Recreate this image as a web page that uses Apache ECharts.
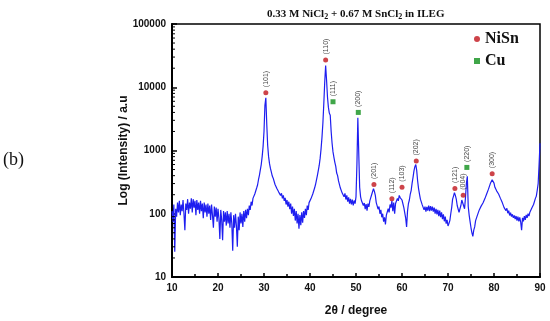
<!DOCTYPE html>
<html><head><meta charset="utf-8">
<script src="https://cdn.jsdelivr.net/npm/echarts@6/dist/echarts.min.js"></script>
<style>html,body{margin:0;padding:0;background:#fff}#c{width:550px;height:321px}</style>
</head><body><div id="c"></div>
<script>
// XRD scan, [2theta, intensity]
const scanA = [[10.0,110],[10.2,75],[10.4,140],[10.6,25],[10.8,120],[11.0,90],[11.2,150],[11.4,105],[11.6,160],[11.8,95],[12.0,140],[12.2,110],[12.4,165],[12.6,100],[12.8,55],[13.0,145],[13.2,115],[13.4,170],[13.6,100],[13.8,150],[14.0,120],[14.2,175],[14.4,105],[14.6,170],[14.8,125],[15.0,160],[15.2,95],[15.4,165],[15.6,115],[15.8,150],[16.0,100],[16.2,160],[16.4,110],[16.6,145],[16.8,85],[17.0,150],[17.2,105],[17.4,140],[17.6,90],[17.8,145],[18.0,100],[18.2,135],[18.4,80],[18.6,140],[18.8,95],[19.0,60],[19.2,130],[19.4,90],[19.6,125],[19.8,75],[20.0,120],[20.2,85],[20.4,40],[20.6,115],[20.8,80],[21.0,38],[21.2,110],[21.4,75],[21.6,105],[21.8,65],[22.0,110],[22.2,70],[22.4,100],[22.6,60],[22.8,105],[23.0,70],[23.2,26],[23.4,95],[23.6,60],[23.8,100],[24.0,65],[24.2,30],[24.4,90],[24.6,55],[24.8,105],[25.0,70],[25.2,100],[25.4,62],[25.6,110],[25.8,75],[26.0,115],[26.2,85],[26.4,120],[26.6,95],[26.8,135],[27.0,115]];
const scanB = [[27.2,155],[27.4,135],[27.6,175],[27.8,172],[28.0,205],[28.2,215],[28.4,255],[28.6,285],[28.8,345],[29.0,405],[29.2,495],[29.4,600],[29.6,800],[29.8,1150],[30.0,2000],[30.2,5200],[30.4,6800],[30.6,2600],[30.8,1200],[31.0,800],[31.2,620],[31.4,520],[31.6,455],[31.8,395],[32.0,365],[32.2,345],[32.4,290],[32.6,290],[32.8,250],[33.0,265],[33.2,220],[33.4,235],[33.6,195],[33.8,210],[34.0,175],[34.2,195],[34.4,160],[34.6,178],[34.8,140],[35.0,165],[35.2,130],[35.4,155],[35.6,118],[35.8,145],[36.0,100],[36.2,130],[36.4,92],[36.6,120],[36.8,78],[37.0,110],[37.2,70],[37.4,100],[37.6,58],[37.8,95],[38.0,66],[38.2,105],[38.4,72],[38.6,110],[38.8,86],[39.0,120],[39.2,95],[39.4,135],[39.6,115],[39.8,150],[40.0,140],[40.2,172],[40.4,170],[40.6,205],[40.8,215],[41.0,255]];
const scanC = [[41.2,290],[41.4,340],[41.6,400],[41.8,480],[42.0,580],[42.2,750],[42.4,1050],[42.6,1600],[42.8,2700],[43.0,5500],[43.2,12000],[43.4,22000],[43.6,13000],[43.8,7000],[44.0,4800],[44.2,3900],[44.4,3600],[44.6,2000],[44.8,1300],[45.0,950],[45.2,780],[45.4,650],[45.6,560],[45.8,440],[46.0,400],[46.2,330],[46.4,310],[46.6,255],[46.8,258],[47.0,212],[47.2,228],[47.4,185],[47.6,210],[47.8,168],[48.0,195],[48.2,155],[48.4,182],[48.6,145],[48.8,172],[49.0,140],[49.2,168],[49.4,135],[49.6,162],[49.8,145],[50.0,185],[50.2,600],[50.4,3300],[50.6,900],[50.8,260],[51.0,185],[51.2,160],[51.4,150],[51.6,135],[51.8,148],[52.0,118],[52.2,142],[52.4,112],[52.6,145],[52.8,128],[53.0,160],[53.2,160],[53.4,200],[53.6,215],[53.8,250],[54.0,225],[54.2,195],[54.4,150],[54.6,150],[54.8,118],[55.0,130],[55.2,100],[55.4,115],[55.6,88],[55.8,100],[56.0,75],[56.2,88],[56.4,68],[56.6,95],[56.8,90],[57.0,120],[57.2,105],[57.4,140],[57.6,125],[57.8,160],[58.0,110],[58.2,150],[58.4,100],[58.6,145],[58.8,140],[59.0,175],[59.2,160],[59.4,195],[59.6,180],[59.8,190],[60.0,165],[60.2,160],[60.4,125],[60.6,125],[60.8,85],[61.0,62]];
const scanD = [[61.2,110],[61.4,145],[61.6,165],[61.8,205],[62.0,235],[62.2,305],[62.4,375],[62.6,475],[62.8,555],[63.0,600],[63.2,480],[63.4,330],[63.6,250],[63.8,205],[64.0,170],[64.2,165],[64.4,138],[64.6,140],[64.8,115],[65.0,130],[65.2,108],[65.4,128],[65.6,112],[65.8,135],[66.0,110],[66.2,132],[66.4,112],[66.6,130],[66.8,108],[67.0,125],[67.2,100],[67.4,120],[67.6,98],[67.8,115],[68.0,92],[68.2,112],[68.4,88],[68.6,105],[68.8,82],[69.0,98],[69.2,76],[69.4,90],[69.6,70],[69.8,80],[70.0,64],[70.2,70],[70.4,78],[70.6,100],[70.8,125],[71.0,170],[71.2,190],[71.4,215],[71.6,195],[71.8,170],[72.0,135],[72.2,130],[72.4,105],[72.6,120],[72.8,135],[73.0,165],[73.2,160],[73.4,155],[73.6,120],[73.8,180],[74.0,300],[74.2,390],[74.4,130],[74.6,95],[74.8,75],[75.0,60],[75.2,50],[75.4,44],[75.6,55],[75.8,62],[76.0,78],[76.2,80],[76.4,95],[76.6,92],[76.8,115],[77.0,110],[77.2,132],[77.4,125],[77.6,148],[77.8,140],[78.0,172],[78.2,170],[78.4,205],[78.6,210],[78.8,245],[79.0,255],[79.2,300],[79.4,315],[79.6,345],[79.8,325],[80.0,305],[80.2,262],[80.4,258],[80.6,228],[80.8,240],[81.0,205],[81.2,210],[81.4,175],[81.6,180],[81.8,150],[82.0,152],[82.2,125],[82.4,132],[82.6,112],[82.8,122],[83.0,102],[83.2,112],[83.4,94],[83.6,104],[83.8,90],[84.0,98],[84.2,86],[84.4,94],[84.6,82],[84.8,92],[85.0,78],[85.2,90],[85.4,76],[85.6,88],[85.8,74],[86.0,55],[86.2,86],[86.4,76],[86.6,92],[86.8,80],[87.0,96],[87.2,86],[87.4,100],[87.6,92],[87.8,106],[88.0,104],[88.2,122],[88.4,120],[88.6,140],[88.8,148],[89.0,175],[89.2,190],[89.4,235],[89.6,300],[89.8,600],[90.0,1300]];

// Phase markers
const nisnPos = [30.4, 43.4, 53.9, 57.8, 60.0, 63.1, 71.5, 73.3, 79.6];
const nisnVal = [8200, 27000, 290, 173, 263, 680, 250, 196, 430];
const nisnHkl = ['(101)','(110)','(201)','(112)','(103)','(202)','(121)','(004)','(300)'];
const cuPos = [45.0, 50.5, 74.1];
const cuVal = [5900, 4000, 540];
const cuHkl = ['(111)','(200)','(220)'];

// Axis ticks
const xTicks = [10,20,30,40,50,60,70,80,90];
const yTicks = [10,100,1000,10000,100000];
const yMinorTicks = [20,30,40,50,60,70,80,90,200,300,400,500,600,700,800,900,2000,3000,4000,5000,6000,7000,8000,9000,20000,30000,40000,50000,60000,70000,80000,90000];

const scan = scanA.concat(scanB, scanC, scanD);
const sans = 'Liberation Sans, Arial, sans-serif';
const serif = 'Liberation Serif, Times New Roman, serif';

const mk = (pos, val, hkl) => pos.map((p, i) => ({value: [p, val[i]], label: {formatter: hkl[i]}}));

const chart = echarts.init(document.getElementById('c'), null, {renderer: 'canvas'});
chart.setOption({
  animation: false,
  backgroundColor: '#fff',
  title: {
    text: '{a|0.33 M NiCl}{s|2}{a| + 0.67 M SnCl}{s|2}{a| in ILEG}',
    left: 262, top: 2,
    textStyle: {
      rich: {
        a: {fontFamily: serif, fontWeight: 'bold', fontSize: 11, color: '#111'},
        s: {fontFamily: serif, fontWeight: 'bold', fontSize: 8, color: '#111', padding: [6, 0, 0, 0]}
      }
    }
  },
  graphic: [{type: 'text', left: 3, top: 151, style: {text: '(b)', font: '18px ' + serif, fill: '#111'}}],
  legend: {
    data: ['NiSn', 'Cu'], orient: 'vertical', left: 469, top: 26,
    itemWidth: 6, itemHeight: 6, itemGap: 6,
    textStyle: {fontFamily: serif, fontWeight: 'bold', fontSize: 16, color: '#111'}
  },
  grid: {left: 172, right: 10, top: 24, bottom: 44, show: true, borderColor: '#000', borderWidth: 1.5,
    outerBoundsMode: 'none', containLabel: false},
  xAxis: {
    type: 'value', min: 10, max: 90, interval: 10,
    name: '2θ / degree', nameLocation: 'middle', nameGap: 28, nameMoveOverlap: false,
    nameTextStyle: {fontFamily: sans, fontWeight: 'bold', fontSize: 12, color: '#111'},
    axisLine: {lineStyle: {color: '#000', width: 2}},
    axisTick: {inside: true, length: 4, lineStyle: {color: '#000', width: 1.5}},
    minorTick: {show: true, splitNumber: 2, length: 3, lineStyle: {color: '#000', width: 1.5}},
    axisLabel: {fontFamily: sans, fontWeight: 'bold', fontSize: 10, color: '#111', margin: 6},
    splitLine: {show: false}
  },
  yAxis: {
    type: 'log', logBase: 10, min: 10, max: 100000,
    name: 'Log (Intensity) / a.u', nameLocation: 'middle', nameGap: 42, nameMoveOverlap: false,
    nameTextStyle: {fontFamily: sans, fontWeight: 'bold', fontSize: 12, color: '#111'},
    axisLine: {lineStyle: {color: '#000', width: 2}},
    axisTick: {inside: true, length: 5, lineStyle: {color: '#000', width: 1.5}},
    axisLabel: {fontFamily: sans, fontWeight: 'bold', fontSize: 10, color: '#111', margin: 6,
      formatter: v => String(Math.round(v))},
    splitLine: {show: false}
  },
  series: [
    {
      name: 'scan', type: 'line', data: scan, showSymbol: false, symbol: 'none',
      lineStyle: {color: '#1e1ef0', width: 1.2}, z: 2, silent: true
    },
    {
      name: 'NiSn', type: 'scatter', data: mk(nisnPos, nisnVal, nisnHkl),
      symbol: 'circle', symbolSize: 5, itemStyle: {color: '#c0141c'}, z: 3,
      label: {show: true, position: 'top', distance: 3, rotate: 90, align: 'left', verticalAlign: 'middle',
        fontFamily: sans, fontSize: 7, color: '#111'}
    },
    {
      name: 'Cu', type: 'scatter', data: mk(cuPos, cuVal, cuHkl),
      symbol: 'rect', symbolSize: 5, itemStyle: {color: '#10901c'}, z: 3,
      label: {show: true, position: 'top', distance: 3, rotate: 90, align: 'left', verticalAlign: 'middle',
        fontFamily: sans, fontSize: 7, color: '#111'}
    },
    {
      name: 'yminor', type: 'custom', silent: true, z: 4,
      data: yMinorTicks.map(v => [10, v]), encode: {x: 0, y: 1},
      renderItem: function (params, api) {
        const p = api.coord([10, api.value(1)]);
        return {type: 'line', shape: {x1: p[0], y1: p[1], x2: p[0] + 3, y2: p[1]}, style: {stroke: '#000', lineWidth: 1}};
      }
    }
  ]
});
</script></body></html>
